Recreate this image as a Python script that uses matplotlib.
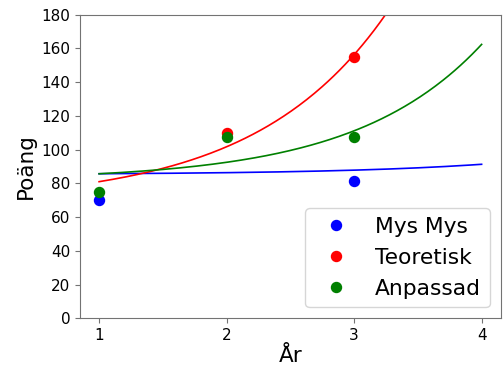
import numpy as np
import matplotlib.pyplot as plt

# measured points (year, score)
mys_x = [1, 3]
mys_y = [70, 81.4]
teo_x = [2, 3]
teo_y = [110, 154.7]
anp_x = [1, 2, 3]
anp_y = [75, 107.3, 107.3]

# fitted model y = c + b*exp(k*x), parameters
mys_fit = (85.23, 0.2028, 0.85)
teo_fit = (68.36, 4.791, 0.97)
anp_fit = (81.8, 1.418, 1.01)


def model(x, params):
    c, b, k = params
    return c + b * np.exp(k * x)


def main():
    fig = plt.figure(figsize=(5.03, 3.69), dpi=100)
    ax = fig.add_axes([0.159, 0.1374, 0.8365, 0.8228])

    ax.plot(mys_x, mys_y, 'o', color='blue', ms=7.2, label='Mys Mys')
    ax.plot(teo_x, teo_y, 'o', color='red', ms=7.2, label='Teoretisk')
    ax.plot(anp_x, anp_y, 'o', color='green', ms=7.2, label='Anpassad')

    xs = np.linspace(1, 4, 200)
    ax.plot(xs, model(xs, mys_fit), color='blue', lw=1.2)
    ax.plot(xs, model(xs, teo_fit), color='red', lw=1.2)
    ax.plot(xs, model(xs, anp_fit), color='green', lw=1.2)

    ax.set_xlim(0.85, 4.15)
    ax.set_ylim(0, 180)
    ax.set_xticks([1, 2, 3, 4])
    ax.set_yticks(range(0, 181, 20))
    ax.tick_params(labelsize=11, color='0.45')
    for s in ax.spines.values():
        s.set_color('0.45')

    ax.set_xlabel('År', fontsize=15.5, labelpad=2)
    ax.set_ylabel('Poäng', fontsize=15.5, labelpad=4)
    ax.legend(loc='lower right', fontsize=15.7)

    fig.savefig('out.png', dpi=100)


if __name__ == "__main__":
    main()
